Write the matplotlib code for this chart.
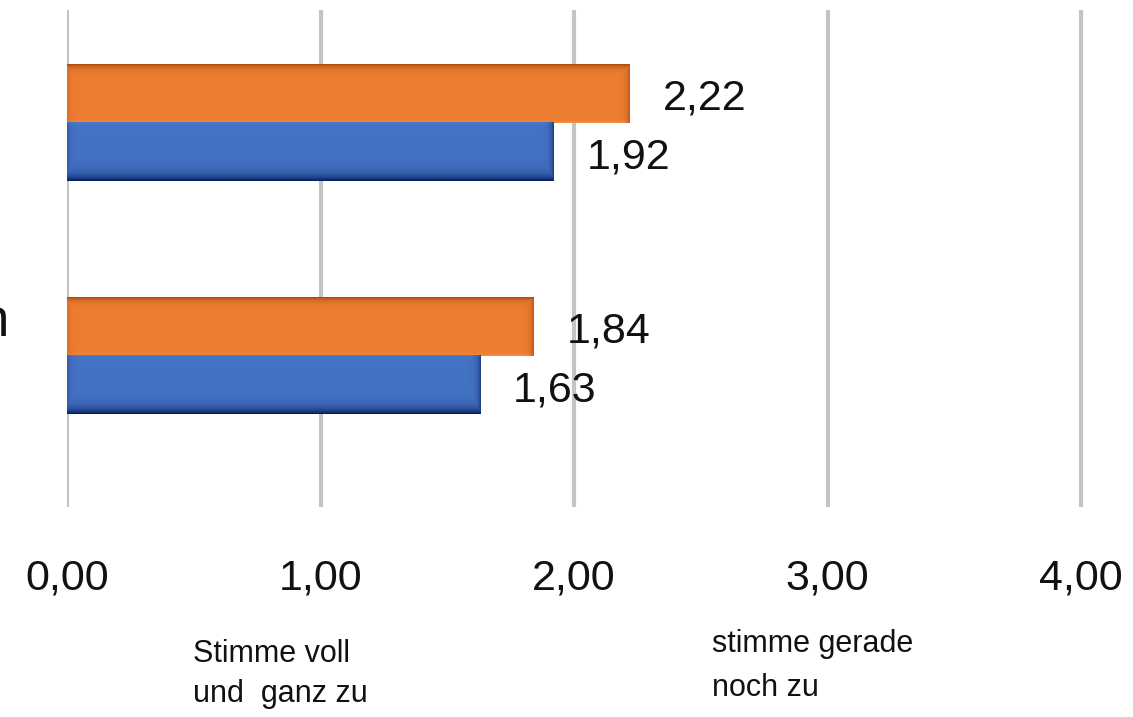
import numpy as np
import matplotlib
matplotlib.use("Agg")
import matplotlib.pyplot as plt
from matplotlib.colors import to_rgb

# data (top group first in the picture; y position 1 = top, 0 = bottom)
cat_pos    = [1, 0]
cat_labels = ["", "n"]            # only the tail of the second label is visible
orange_val = [2.22, 1.84]
blue_val   = [1.92, 1.63]
xticks     = [0, 1, 2, 3, 4]
scale_low  = "Stimme voll\nund  ganz zu"
scale_high = "stimme gerade\nnoch zu"

ORANGE, ORANGE_DK, ORANGE_LT = "#ED7D31", "#A3440A", "#F59A5C"
BLUE, BLUE_DK, BLUE_LT = "#4472C4", "#06205F", "#5A86D2"

plt.rcParams.update({"font.family": ["Liberation Sans", "DejaVu Sans"]})

def de(v):
    return f"{v:.2f}".replace(".", ",")

fig = plt.figure(figsize=(11.33, 7.17), dpi=100)
ax = fig.add_axes([67 / 1133, 210 / 717, 1066 / 1133, 497 / 717])
XMAX = 1066 / 253.5
YLIM = (-0.648, 1.485)

def bevel(patch, base, dark, light, heavy_top):
    bb = patch.get_bbox()
    x0, x1 = sorted((bb.x0, bb.x1))
    y0, y1 = sorted((bb.y0, bb.y1))
    nx = max(int((x1 - x0) * 253.5), 2)
    ny = max(int((y1 - y0) * 233), 2)
    b, d, l = (np.array(to_rgb(c)) for c in (base, dark, light))
    t = np.arange(ny)[:, None]              # distance from top (px)
    bt = (ny - 1 - np.arange(ny))[:, None]  # distance from bottom
    s = np.arange(nx)[None, :]
    r = (nx - 1 - np.arange(nx))[None, :]
    if heavy_top:
        dk = 0.85 * np.exp(-t / 3.0)
        lt = 0.6 * np.exp(-bt / 1.5)
    else:
        dk = 1.0 * np.exp(-bt / 5.5)
        lt = 0.4 * np.exp(-t / 1.5)
    dk = np.maximum(dk, 0.25 * np.exp(-s / 3.0))
    dk = np.maximum(dk, 0.6 * np.exp(-r / 3.0))
    img = b[None, None, :] * np.ones((ny, nx, 3))
    img = img * (1 - lt[..., None]) + l * lt[..., None]
    img = img * (1 - dk[..., None]) + d * dk[..., None]
    ax.imshow(np.clip(img, 0, 1), extent=(x0, x1, y0, y1),
              origin="upper", aspect="auto", interpolation="bilinear", zorder=3)

H = 0.25
ob = ax.barh(cat_pos, orange_val, height=H, align="edge", color=ORANGE, zorder=2)
bb = ax.barh(cat_pos, blue_val, height=-H, align="edge", color=BLUE, zorder=2)
for p in ob:
    bevel(p, ORANGE, ORANGE_DK, ORANGE_LT, True)
for p in bb:
    bevel(p, BLUE, BLUE_DK, BLUE_LT, False)
ax.set_xlim(0, XMAX)
ax.set_ylim(*YLIM)

for y, v in zip(cat_pos, orange_val):
    ax.annotate(de(v), xy=(v, y + H / 2), xytext=(33, -5), textcoords="offset pixels",
                ha="left", va="center", fontsize=31, color="#111111")
for y, v in zip(cat_pos, blue_val):
    ax.annotate(de(v), xy=(v, y - H / 2), xytext=(33, -5), textcoords="offset pixels",
                ha="left", va="center", fontsize=31, color="#111111")

for y, lab in zip(cat_pos, cat_labels):
    if lab:
        ax.annotate(lab, xy=(0, y), xycoords=("axes fraction", "data"),
                    xytext=(-58, 34), textcoords="offset pixels",
                    ha="right", va="center", fontsize=38, color="#111111")

ax.set_xticks(xticks)
ax.set_xticklabels([de(v) for v in xticks], fontsize=31, color="#111111")
ax.set_yticks([])
ax.tick_params(axis="x", length=0, pad=37)
ax.grid(axis="x", color="#c4c4c4", lw=3, zorder=0)
ax.set_axisbelow(True)
for sp in ax.spines.values():
    sp.set_visible(False)

fig.text(193 / 1133, 1 - 674 / 717, scale_low, ha="left", va="center",
         fontsize=22, linespacing=1.45, color="#111111")
fig.text(712 / 1133, 1 - 666 / 717, scale_high, ha="left", va="center",
         fontsize=22, linespacing=1.65, color="#111111")

fig.savefig("out.png", dpi=100)
plt.close(fig)
